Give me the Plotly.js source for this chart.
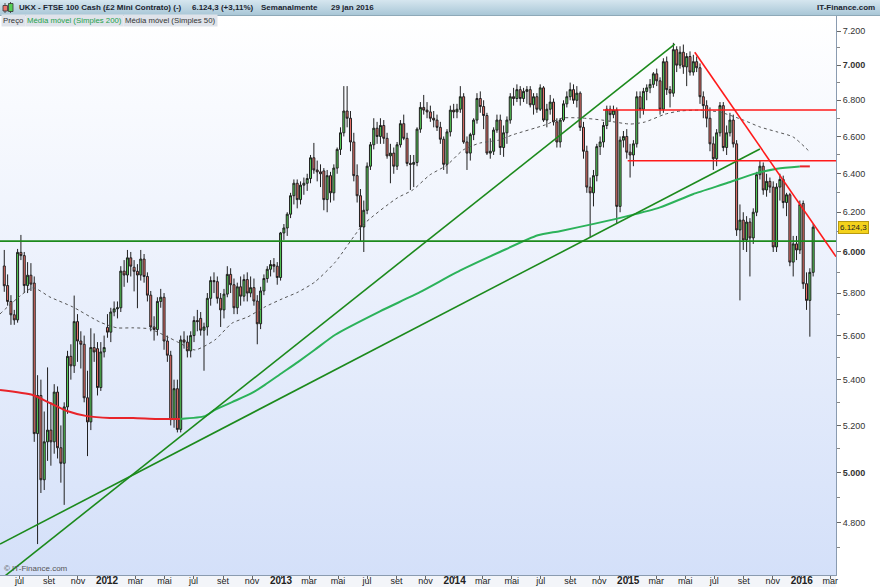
<!DOCTYPE html>
<html><head><meta charset="utf-8">
<script src="https://cdn.plot.ly/plotly-3.0.1.min.js"></script>
<style>
html,body{margin:0;padding:0;background:#fff;}
#wrap{position:relative;width:880px;height:587px;overflow:hidden;background:#fff;}
#hdr{position:absolute;left:0;top:0;width:880px;height:15px;background:linear-gradient(#d6e6ef,#a9c7d7);border-bottom:1px solid #8ea9b8;}
#pbg{position:absolute;left:0;top:16px;width:836px;height:559px;background:linear-gradient(#ffffff,#d4e0f9);}
#xbg{position:absolute;left:0;top:575px;width:836px;height:12px;background:#f3f5f9;}
#chart{position:absolute;left:0;top:0;width:880px;height:587px;}
</style></head>
<body><div id="wrap"><div id="hdr"></div><div id="pbg"></div><div id="xbg"></div><div id="chart"></div></div>
<script>
// ---- weekly candles (first week starts 2011-05-30) ----
const firstWeek = '2011-05-30';
const opens = [
5931,5836,5760,5697,5673,5998,5982,5836,5886,5848,
5165,5330,4972,5130,5180,5130,5345,5105,5040,5280,
5505,5462,5665,5575,5560,5320,5215,5545,5540,5365,
5525,5638,5616,5710,5725,5730,5906,5887,5971,5925,
5905,5887,5965,5880,5790,5640,5628,5760,5780,5575,
5510,5225,5360,5183,5580,5570,5530,5600,5670,5680,
5625,5640,5775,5860,5855,5775,5720,5795,5890,5840,
5730,5830,5785,5865,5800,5826,5762,5655,5810,5870,
5915,5938,5930,5875,6095,6120,6190,6285,6350,6265,
6340,6350,6375,6485,6420,6410,6415,6265,6390,6300,
6430,6530,6620,6740,6700,6570,6390,6285,6125,6210,
6440,6555,6645,6600,6660,6590,6495,6510,6440,6555,
6670,6590,6455,6450,6460,6640,6760,6745,6735,6700,
6690,6650,6585,6450,6625,6745,6735,6750,6820,6570,
6510,6610,6690,6810,6765,6715,6510,6520,6635,6690,
6540,6620,6690,6820,6810,6860,6810,6850,6860,6775,
6820,6750,6870,6690,6750,6790,6680,6570,6690,6780,
6820,6860,6800,6840,6650,6520,6330,6300,6390,6545,
6570,6660,6750,6720,6745,6230,6580,6600,6515,6500,
6560,6820,6750,6850,6870,6890,6950,6910,6750,7020,
6860,6840,7090,7000,7075,6990,7050,6960,7020,6985,
6820,6770,6700,6560,6480,6620,6770,6540,6620,6690,
6560,6110,6160,6060,6150,6070,6200,6395,6440,6315,
6360,6330,6025,6330,6370,6250,6290,5950,6040,6010,
6245,5845,5765,5900];
const highs = [
6010,5890,5790,5720,6015,6085,6000,5950,5945,5880,
5420,5400,5260,5455,5300,5380,5370,5200,5300,5530,
5560,5788,5700,5620,5600,5440,5634,5610,5570,5570,
5600,5700,5730,5760,5760,5930,5960,6010,6000,5960,
5940,6010,5990,5900,5810,5690,5780,5820,5800,5600,
5530,5400,5400,5600,5620,5600,5620,5690,5720,5710,
5660,5800,5880,5900,5880,5800,5820,5930,5920,5870,
5850,5880,5890,5900,5880,5870,5790,5830,5890,5930,
5960,5970,5950,6100,6140,6200,6300,6370,6370,6360,
6380,6400,6500,6565,6470,6450,6430,6420,6410,6450,
6540,6650,6880,6880,6740,6620,6450,6320,6260,6460,
6570,6700,6680,6700,6690,6620,6560,6540,6570,6690,
6720,6620,6500,6500,6650,6790,6830,6790,6770,6740,
6720,6680,6600,6640,6770,6780,6780,6880,6840,6600,
6620,6700,6840,6850,6800,6730,6590,6650,6720,6720,
6660,6710,6840,6870,6890,6880,6870,6880,6880,6840,
6840,6890,6880,6780,6830,6810,6700,6700,6800,6850,
6900,6890,6880,6850,6680,6550,6380,6420,6560,6600,
6680,6770,6770,6770,6760,6600,6630,6640,6560,6580,
6850,6850,6870,6890,6920,6960,6980,6930,7040,7050,
6880,7130,7110,7110,7120,7070,7080,7060,7050,7010,
6850,6800,6760,6600,6640,6790,6790,6660,6730,6720,
6580,6240,6200,6180,6170,6220,6410,6470,6460,6400,
6380,6360,6350,6400,6390,6300,6300,6080,6080,6260,
6260,5900,5920,6140];
const lows = [
5806,5740,5650,5650,5660,5960,5800,5800,5810,5130,
4715,4918,4930,5050,5030,5080,5060,4960,4870,5250,
5400,5430,5480,5450,5300,5070,5180,5480,5330,5350,
5500,5590,5570,5690,5680,5710,5830,5850,5880,5808,
5728,5860,5850,5760,5620,5577,5600,5730,5535,5480,
5200,5190,5170,5170,5540,5500,5500,5570,5620,5600,
5440,5600,5740,5800,5750,5640,5680,5780,5800,5700,
5700,5740,5760,5760,5780,5740,5560,5630,5790,5850,
5880,5900,5840,5860,6060,6080,6170,6240,6220,6240,
6290,6310,6350,6400,6360,6330,6210,6200,6250,6260,
6400,6500,6600,6650,6520,6360,6250,6050,6000,6190,
6420,6530,6560,6560,6560,6480,6350,6400,6420,6540,
6580,6440,6315,6330,6440,6620,6720,6700,6680,6650,
6630,6560,6420,6400,6600,6700,6700,6730,6560,6420,
6470,6580,6670,6730,6640,6500,6480,6500,6620,6500,
6490,6560,6670,6770,6790,6770,6790,6780,6760,6720,
6730,6740,6680,6650,6720,6660,6540,6540,6680,6760,
6800,6780,6760,6630,6480,6300,6075,6230,6360,6500,
6540,6640,6680,6700,6140,6200,6540,6480,6380,6440,
6540,6700,6720,6800,6840,6870,6880,6720,6730,6830,
6760,6820,6960,6980,6950,6880,6940,6940,6960,6780,
6700,6650,6520,6420,6440,6600,6520,6500,6600,6540,
6080,5765,6010,6000,5880,6040,6180,6370,6290,6280,
6300,6000,6000,6260,6220,6180,5930,5880,5960,5990,
5820,5720,5595,5880];
const closes = [
5835,5760,5697,5673,5998,5982,5836,5886,5843,5165,
5330,4972,5130,5180,5130,5345,5105,5040,5280,5505,
5462,5665,5575,5560,5320,5215,5545,5525,5365,5525,
5545,5616,5710,5725,5730,5906,5887,5971,5930,5905,
5887,5965,5880,5790,5640,5628,5760,5780,5575,5510,
5225,5360,5183,5580,5570,5530,5600,5670,5665,5625,
5640,5775,5860,5855,5775,5720,5795,5890,5840,5730,
5830,5785,5865,5800,5826,5762,5655,5810,5870,5915,
5938,5930,5875,6095,6120,6190,6285,6350,6265,6340,
6350,6375,6485,6420,6410,6400,6265,6390,6300,6430,
6530,6620,6740,6700,6570,6390,6285,6125,6210,6440,
6555,6645,6600,6660,6590,6495,6510,6440,6555,6670,
6590,6455,6450,6460,6640,6760,6745,6735,6700,6690,
6650,6585,6450,6625,6745,6735,6750,6820,6570,6510,
6610,6690,6810,6765,6715,6510,6520,6635,6690,6540,
6620,6690,6820,6810,6860,6810,6850,6860,6775,6820,
6750,6870,6690,6750,6790,6680,6570,6690,6780,6820,
6860,6800,6840,6650,6520,6330,6300,6390,6545,6570,
6660,6750,6720,6745,6230,6580,6600,6515,6500,6560,
6820,6750,6850,6870,6890,6950,6910,6750,7020,6860,
6840,7090,7000,7075,6990,7050,6960,7020,6985,6820,
6770,6700,6560,6480,6620,6770,6540,6620,6690,6560,
6110,6160,6060,6150,6070,6200,6395,6440,6315,6360,
6330,6025,6330,6370,6250,6290,5950,6040,6010,6240,
5845,5765,5900,6124];

// ---- moving averages ----
const ma200Dates = ['2011-05-21','2011-07-29','2011-09-03','2011-10-09','2011-11-20','2012-01-07','2012-02-25','2012-04-15','2012-06-03','2012-07-25','2012-08-15','2012-09-20','2012-11-01','2012-11-28','2013-01-03','2013-02-06','2013-03-13','2013-04-25','2013-07-28','2013-10-20','2014-01-12','2014-04-06','2014-06-25','2014-08-10','2014-10-23','2014-12-30','2015-03-09','2015-05-17','2015-07-28','2015-09-21','2015-11-10','2015-12-28','2016-01-18'];
const ma200Values = [5354,5332,5297,5262,5240,5232,5232,5228,5228,5240,5267,5301,5341,5377,5430,5480,5535,5604,5713,5804,5908,6000,6083,6104,6142,6180,6225,6293,6351,6398,6427,6439,6439];
const ma50Dates = ['2011-05-21','2011-07-29','2011-09-03','2011-10-21','2011-12-17','2012-01-22','2012-02-25','2012-03-31','2012-05-12','2012-05-29','2012-07-04','2012-08-15','2012-09-20','2012-10-23','2012-11-28','2013-01-03','2013-02-06','2013-03-13','2013-04-25','2013-06-22','2013-09-02','2013-10-05','2013-11-10','2013-12-16','2014-01-19','2014-02-23','2014-04-06','2014-05-02','2014-07-10','2014-08-15','2014-09-26','2014-11-07','2015-01-05','2015-02-05','2015-03-20','2015-04-20','2015-06-01','2015-07-13','2015-08-31','2015-10-05','2015-11-10','2015-12-14','2016-01-18'];
const ma50Values = [5701,5825,5781,5734,5663,5636,5636,5631,5589,5570,5534,5580,5658,5687,5734,5772,5805,5853,5950,6135,6273,6315,6394,6446,6527,6564,6581,6608,6663,6701,6701,6690,6668,6679,6723,6740,6745,6734,6690,6652,6625,6597,6516];

// ---- drawn trend lines (end points) ----
const greenLineA = {x:['2011-05-31','2015-04-09'], y:[4592,7123]};
const greenLineB = {x:['2011-05-21','2015-10-05'], y:[4715,6532]};
const greenLevel = {x:['2011-05-21','2016-03-13'], y:[6054,6054]};
const redLevel1 = {x:['2014-11-09','2016-03-13'], y:[6746,6746]};
const redLevel2 = {x:['2014-12-31','2016-03-13'], y:[6469,6469]};
const redDiag = {x:['2015-05-21','2016-03-13'], y:[7075,5977]};

// ---- axis ticks ----
const xTickVals = ['2011-07-01','2011-09-01','2011-11-01','2012-01-01','2012-03-01','2012-05-01','2012-07-01','2012-09-01','2012-11-01','2013-01-01','2013-03-01','2013-05-01','2013-07-01','2013-09-01','2013-11-01','2014-01-01','2014-03-01','2014-05-01','2014-07-01','2014-09-01','2014-11-01','2015-01-01','2015-03-01','2015-05-01','2015-07-01','2015-09-01','2015-11-01','2016-01-01','2016-03-01'];
const xTickText = ['jul','set','nov','2012','mar','mai','jul','set','nov','2013','mar','mai','jul','set','nov','2014','mar','mai','jul','set','nov','2015','mar','mai','jul','set','nov','2016','mar'];
const yTickVals = [4800,5000,5200,5400,5600,5800,6000,6200,6400,6600,6800,7000,7200];
const yTickText = ['4.800','5.000','5.200','5.400','5.600','5.800','6.000','6.200','6.400','6.600','6.800','7.000','7.200'];
const yMinorVals = [4700,4900,5100,5300,5500,5700,5900,6100,6300,6500,6700,6900,7100];
const lastPrice = 6124.3;

// build week dates
const weeks = [];
{ const d0 = new Date(firstWeek+'T00:00:00Z');
  for (let i=0;i<closes.length;i++){ const d=new Date(d0.getTime()+i*7*86400000); weeks.push(d.toISOString().slice(0,10)); } }

const fmtX = xTickText.map(t => /^\d{4}$/.test(t) ? '<b><span style="font-size:10px">'+t+'</span></b>' : t);
const fmtY = yTickText.map(t => /000$/.test(t) ? '<b>'+t+'</b>' : t);

function seg(dates, vals, a, b){ return {x:dates.slice(a,b+1), y:vals.slice(a,b+1)}; }
const r1 = seg(ma200Dates, ma200Values, 0, 8);
const g1 = seg(ma200Dates, ma200Values, 8, 31);
const r2 = seg(ma200Dates, ma200Values, 31, 32);

const traces = [
  {type:'scatter',mode:'lines',x:ma50Dates,y:ma50Values,line:{color:'#555',width:1,dash:'3px,3px',shape:'spline',smoothing:0.6},hoverinfo:'skip'},
  {type:'scatter',mode:'lines',x:r1.x,y:r1.y,line:{color:'#e8242a',width:2,shape:'spline',smoothing:0.6},hoverinfo:'skip'},
  {type:'scatter',mode:'lines',x:g1.x,y:g1.y,line:{color:'#2cb25a',width:2,shape:'spline',smoothing:0.6},hoverinfo:'skip'},
  {type:'scatter',mode:'lines',x:r2.x,y:r2.y,line:{color:'#e8242a',width:2},hoverinfo:'skip'},
  {type:'scatter',mode:'lines',x:greenLevel.x,y:greenLevel.y,line:{color:'#1c8a1c',width:1.6},hoverinfo:'skip'},
  {type:'scatter',mode:'lines',x:greenLineA.x,y:greenLineA.y,line:{color:'#1c8a1c',width:1.6},hoverinfo:'skip'},
  {type:'scatter',mode:'lines',x:greenLineB.x,y:greenLineB.y,line:{color:'#1c8a1c',width:1.6},hoverinfo:'skip'},
  {type:'candlestick',x:weeks,open:opens,high:highs,low:lows,close:closes,
   increasing:{line:{color:'#202020',width:1},fillcolor:'#55cf55'},
   decreasing:{line:{color:'#202020',width:1},fillcolor:'#ec736a'},
   whiskerwidth:0,hoverinfo:'skip'},
  {type:'scatter',mode:'lines',x:redLevel1.x,y:redLevel1.y,line:{color:'#ff1a1a',width:1.6},hoverinfo:'skip'},
  {type:'scatter',mode:'lines',x:redLevel2.x,y:redLevel2.y,line:{color:'#ff1a1a',width:1.6},hoverinfo:'skip'},
  {type:'scatter',mode:'lines',x:redDiag.x,y:redDiag.y,line:{color:'#ff1a1a',width:1.6},hoverinfo:'skip'}
];

const H = 559, PB = 575;
const py = Y => (PB - Y)/H;
const px = X => X/836;
const hdrFont = {family:'Liberation Sans, Arial, sans-serif', size:8, color:'#1b2430'};
const legFont = {family:'Liberation Sans, Arial, sans-serif', size:7.8, color:'#333'};

const annotations = [
  {xref:'paper',yref:'paper',x:px(17),y:py(7.5),xanchor:'left',yanchor:'middle',showarrow:false,text:'<b>UKX - FTSE 100 Cash (£2 Mini Contrato) (-)</b>',font:hdrFont},
  {xref:'paper',yref:'paper',x:px(190),y:py(7.5),xanchor:'left',yanchor:'middle',showarrow:false,text:'<b>6.124,3 (+3,11%)</b>',font:hdrFont},
  {xref:'paper',yref:'paper',x:px(259),y:py(7.5),xanchor:'left',yanchor:'middle',showarrow:false,text:'<b>Semanalmente</b>',font:hdrFont},
  {xref:'paper',yref:'paper',x:px(329),y:py(7.5),xanchor:'left',yanchor:'middle',showarrow:false,text:'<b>29 jan 2016</b>',font:hdrFont},
  {xref:'paper',yref:'paper',x:px(877),y:py(7.5),xanchor:'right',yanchor:'middle',showarrow:false,text:'<b>IT-Finance.com</b>',font:hdrFont},
  {xref:'paper',yref:'paper',x:px(1),y:py(20.5),xanchor:'left',yanchor:'middle',showarrow:false,text:'Preço',font:legFont,bgcolor:'#dfe3ea',borderpad:1},
  {xref:'paper',yref:'paper',x:px(25),y:py(20.5),xanchor:'left',yanchor:'middle',showarrow:false,text:'Média móvel (Simples 200)',font:Object.assign({},legFont,{color:'#22a04a'}),bgcolor:'#dfe3ea',borderpad:1},
  {xref:'paper',yref:'paper',x:px(123),y:py(20.5),xanchor:'left',yanchor:'middle',showarrow:false,text:'Média móvel (Simples 50)',font:legFont,bgcolor:'#dfe3ea',borderpad:1},
  {xref:'paper',yref:'paper',x:px(2),y:py(568),xanchor:'left',yanchor:'middle',showarrow:false,text:'© IT-Finance.com',font:{family:'Liberation Sans, Arial, sans-serif',size:8,color:'#555'}},
  {xref:'paper',yref:'y',x:1,xshift:2,y:Math.log10(lastPrice),xanchor:'left',yanchor:'middle',showarrow:false,
   text:'6.124,3',font:{family:'Liberation Sans, Arial, sans-serif',size:8,color:'#222'},bgcolor:'#f4d21c',bordercolor:'#b89a10',borderwidth:1,borderpad:1}
];

const shapes = [
  {type:'line',xref:'paper',yref:'paper',x0:px(5),x1:px(5),y0:py(3),y1:py(13),line:{color:'#555',width:1}},
  {type:'rect',xref:'paper',yref:'paper',x0:px(3),x1:px(7.5),y0:py(5.5),y1:py(11),fillcolor:'#ec736a',line:{color:'#333',width:0.8}},
  {type:'line',xref:'paper',yref:'paper',x0:px(10.5),x1:px(10.5),y0:py(2),y1:py(13),line:{color:'#555',width:1}},
  {type:'rect',xref:'paper',yref:'paper',x0:px(8.5),x1:px(13),y0:py(3.5),y1:py(11.5),fillcolor:'#55cf55',line:{color:'#333',width:0.8}}
];

const layout = {
  width:880, height:587,
  margin:{l:0,r:44,t:16,b:12,pad:0},
  paper_bgcolor:'rgba(0,0,0,0)', plot_bgcolor:'rgba(0,0,0,0)',
  separators:',.',
  showlegend:false, hovermode:false,
  boxgap:0.15,
  font:{family:'Liberation Sans, Arial, sans-serif', size:9, color:'#333'},
  xaxis:{type:'date', range:['2011-05-21','2016-03-13'], rangeslider:{visible:false},
    tickmode:'array', tickvals:xTickVals, ticktext:fmtX, ticks:'outside', ticklen:3, tickcolor:'#666',
    showgrid:false, zeroline:false, showline:true, linecolor:'#8a9bb0', linewidth:1,
    tickfont:{size:9,color:'#222'}, ticklabelstandoff:-6, fixedrange:true},
  yaxis:{type:'log', side:'right', range:[3.66240,3.86271],
    tickmode:'array', tickvals:yTickVals, ticktext:fmtY, ticks:'outside', ticklen:4, tickcolor:'#666',
    minor:{tickmode:'array', tickvals:yMinorVals, ticks:'outside', ticklen:3, tickcolor:'#888', showgrid:false},
    showgrid:false, zeroline:false, showline:true, linecolor:'#8a9bb0', linewidth:1,
    tickfont:{size:9,color:'#333'}, fixedrange:true},
  annotations, shapes
};

Plotly.newPlot('chart', traces, layout, {displayModeBar:false, staticPlot:true});
</script></body></html>
